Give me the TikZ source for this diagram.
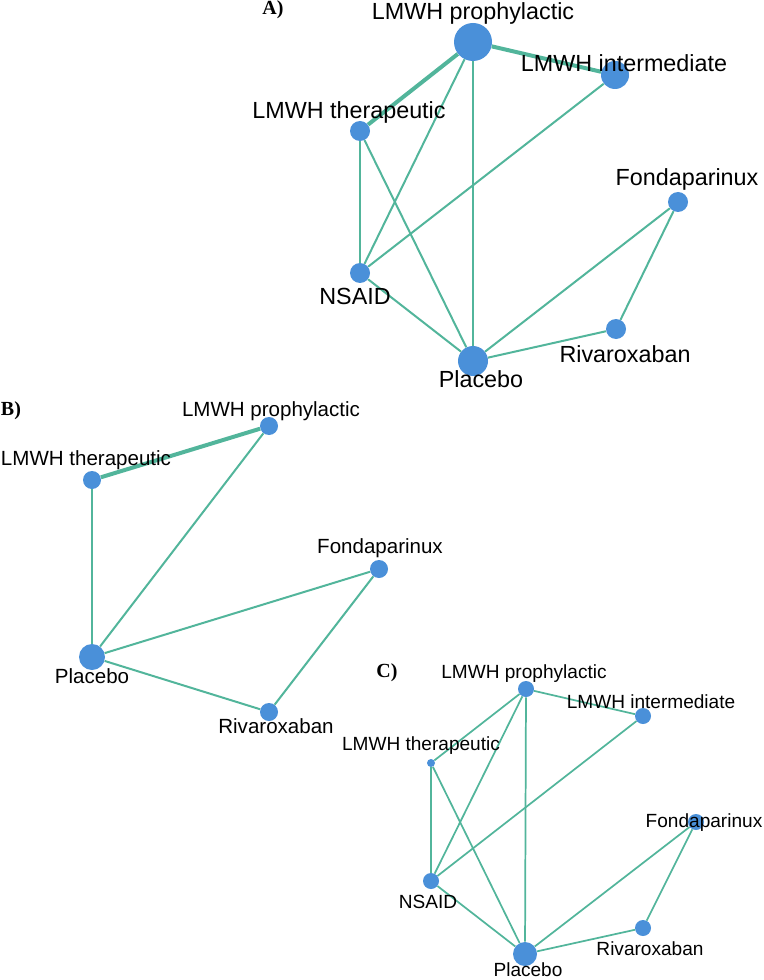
\documentclass[tikz,border=0pt]{standalone}
\usepackage{fontspec}
\setmainfont{Liberation Sans}
\newfontfamily\tagfont{Liberation Serif}
\usepackage{xcolor}
\definecolor{netblue}{HTML}{4A90D9}
\definecolor{netgreen}{HTML}{52B59B}

\begin{document}
\begin{tikzpicture}[
      x=0.75pt, y=-0.75pt,
      trt/.style={circle, fill=netblue, inner sep=0pt, minimum size=#1},
      lbl/.style={inner sep=0pt, anchor=base, font=\fontsize{#1}{#1}\selectfont},
      tag/.style={inner sep=0pt, anchor=base, font=\tagfont\bfseries\fontsize{15}{15}\selectfont},
      lnk/.style={draw=netgreen, line width=#1},
      lnk/.default=1.5pt,
      wide/.style={draw=netgreen, line width=3pt}
    ]
      \useasboundingbox (0,0) rectangle (763,980);

      % A)
      \node[trt=28.5pt] (aPro) at (473,42) {};
      \node[trt=21pt] (aInt) at (615,75) {};
      \node[trt=15pt] (aThe) at (360,131) {};
      \node[trt=15pt] (aFon) at (678,202) {};
      \node[trt=15pt] (aNsa) at (360,273) {};
      \node[trt=15pt] (aRiv) at (616,329) {};
      \node[trt=22.5pt] (aPla) at (473,361) {};
      \draw[wide] (aPro) -- (aInt);
      \draw[wide] (aPro) -- (aThe);
      \draw[lnk] (aPro) -- (aNsa);
      \draw[lnk] (aPro) -- (aPla);
      \draw[lnk] (aInt) -- (aNsa);
      \draw[lnk] (aThe) -- (aNsa);
      \draw[lnk] (aThe) -- (aPla);
      \draw[lnk] (aNsa) -- (aPla);
      \draw[lnk] (aPla) -- (aFon);
      \draw[lnk] (aPla) -- (aRiv);
      \draw[lnk] (aFon) -- (aRiv);
      \node[tag] (aTag) at (273,15) {A)};
      \node[lbl=17.5] (aProL) at (473,20) {LMWH prophylactic};
      \node[lbl=17.5] (aIntL) at (624,72) {LMWH intermediate};
      \node[lbl=17.5] (aTheL) at (349,119) {LMWH therapeutic};
      \node[lbl=17.5] (aFonL) at (687,186) {Fondaparinux};
      \node[lbl=17.5] (aNsaL) at (355,304) {NSAID};
      \node[lbl=17.5] (aRivL) at (625,362) {Rivaroxaban};
      \node[lbl=17.5] (aPlaL) at (481,387) {Placebo};

      % B)
      \node[trt=13.5pt] (bPro) at (269,426) {};
      \node[trt=13.5pt] (bThe) at (92,480) {};
      \node[trt=13.5pt] (bFon) at (379,569) {};
      \node[trt=19.5pt] (bPla) at (92,657) {};
      \node[trt=13.5pt] (bRiv) at (269,712) {};
      \draw[wide] (bThe) -- (bPro);
      \draw[lnk] (bThe) -- (bPla);
      \draw[lnk] (bPro) -- (bPla);
      \draw[lnk] (bPla) -- (bFon);
      \draw[lnk] (bPla) -- (bRiv);
      \draw[lnk] (bFon) -- (bRiv);
      \node[tag] (bTag) at (11,415) {B)};
      \node[lbl=15.4] (bProL) at (271,416) {LMWH prophylactic};
      \node[lbl=15.4] (bTheL) at (86,465) {LMWH therapeutic};
      \node[lbl=15.4] (bFonL) at (380,553) {Fondaparinux};
      \node[lbl=15.4] (bPlaL) at (92,683) {Placebo};
      \node[lbl=15.4] (bRivL) at (276,733) {Rivaroxaban};

      % C)
      \node[trt=12pt] (cPro) at (526,689) {};
      \node[trt=12pt] (cInt) at (643,716) {};
      \node[trt=6pt] (cThe) at (431,763) {};
      \node[trt=12pt] (cFon) at (696,822) {};
      \node[trt=12pt] (cNsa) at (431,881) {};
      \node[trt=12pt] (cRiv) at (643,928) {};
      \node[trt=18pt] (cPla) at (525,954) {};
      \draw[lnk=1.3pt] (cPro) -- (cInt);
      \draw[lnk=1.3pt] (cPro) -- (cThe);
      \draw[lnk=1.3pt] (cPro) -- (cNsa);
      \draw[lnk=1.3pt] (cPro) -- (cPla);
      \draw[lnk=1.3pt] (cInt) -- (cNsa);
      \draw[lnk=1.3pt] (cThe) -- (cNsa);
      \draw[lnk=1.3pt] (cThe) -- (cPla);
      \draw[lnk=1.3pt] (cNsa) -- (cPla);
      \draw[lnk=1.3pt] (cPla) -- (cFon);
      \draw[lnk=1.3pt] (cPla) -- (cRiv);
      \draw[lnk=1.3pt] (cFon) -- (cRiv);
      \node[tag] (cTag) at (387,677) {C)};
      \node[lbl=14.3] (cProL) at (524,678) {LMWH prophylactic};
      \node[lbl=14.3] (cIntL) at (651,708) {LMWH intermediate};
      \node[lbl=14.3] (cTheL) at (421,750) {LMWH therapeutic};
      \node[lbl=14.3] (cFonL) at (704,827) {Fondaparinux};
      \node[lbl=14.3] (cNsaL) at (428,908) {NSAID};
      \node[lbl=14.3] (cRivL) at (650,955) {Rivaroxaban};
      \node[lbl=14.3] (cPlaL) at (528,976) {Placebo};
    \end{tikzpicture}
\end{document}
